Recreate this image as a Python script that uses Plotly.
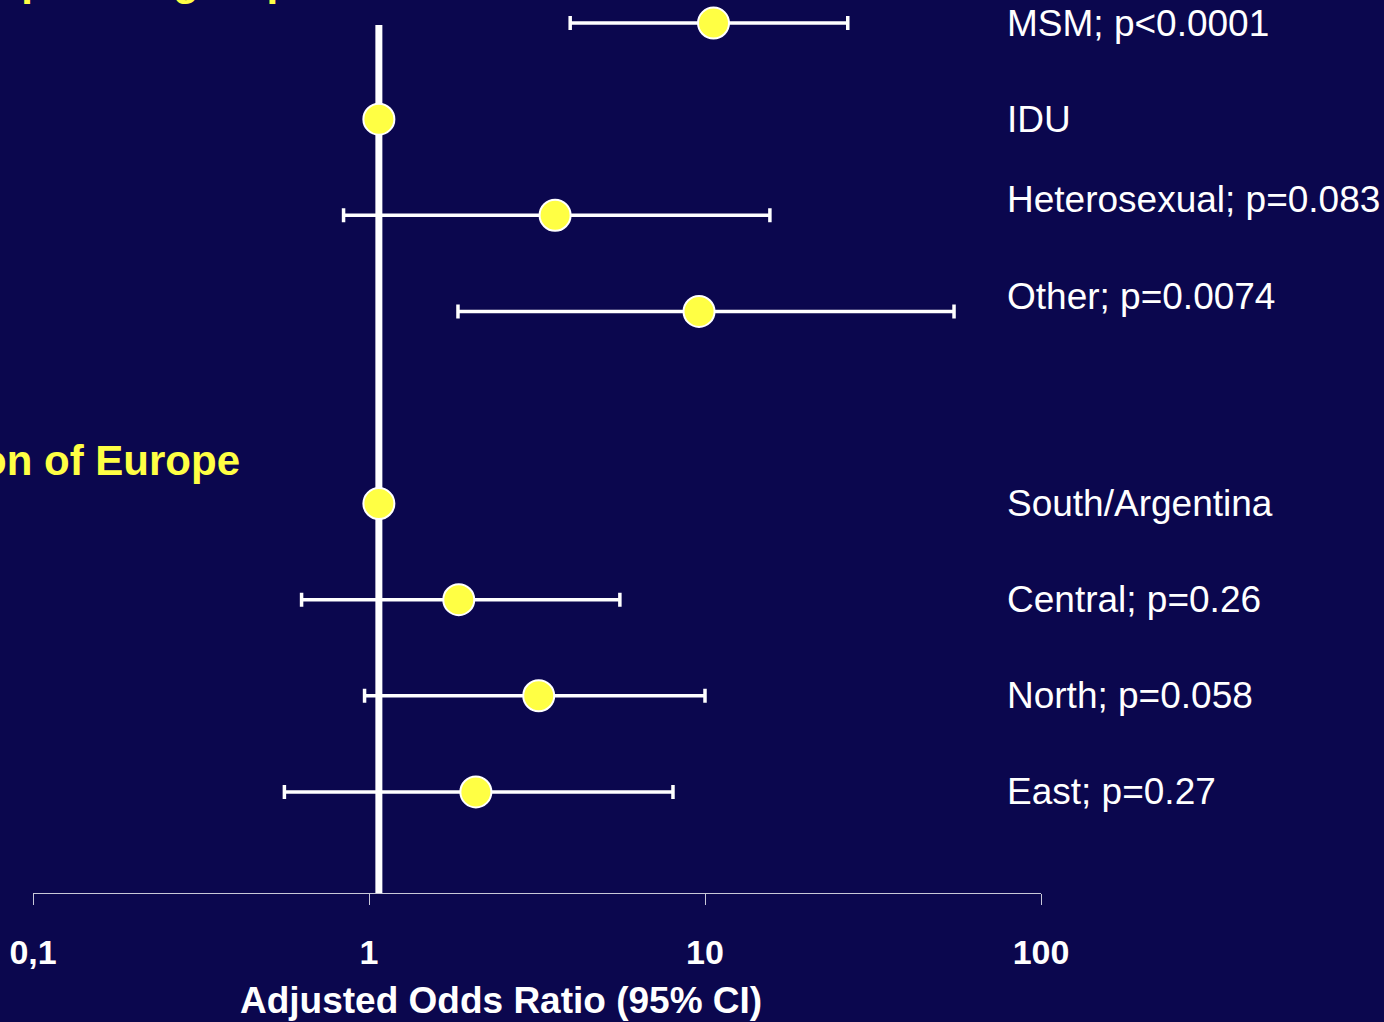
import plotly.graph_objects as go

# Adjusted odds ratios with 95% confidence intervals
labels = [
    "MSM; p<0.0001",
    "IDU",
    "Heterosexual; p=0.083",
    "Other; p=0.0074",
    "South/Argentina",
    "Central; p=0.26",
    "North; p=0.058",
    "East; p=0.27",
]
odds_ratio = [10.6, 1.07, 3.58, 9.6, 1.07, 1.85, 3.2, 2.08]
ci_low = [3.97, 1.07, 0.84, 1.84, 1.07, 0.63, 0.97, 0.56]
ci_high = [26.6, 1.07, 15.6, 55.1, 1.07, 5.58, 10.0, 8.03]
row_pos = [8, 7, 6, 5, 3, 2, 1, 0]
label_pos = [8, 7, 6.16, 5.16, 3, 2, 1, 0]

group_titles = ["Exposure group", "Region of Europe"]
group_pos = [8.175, 3.45]

tick_vals = [0.1, 1, 10, 100]
tick_text = ["0,1", "1", "10", "100"]
reference_or = 1.07

BG = "#0b074e"
YELLOW = "#ffff44"
WHITE = "#ffffff"
FONT = "Liberation Sans, Arial, sans-serif"

y_range = [-1.052, 8.24]

fig = go.Figure()

# vertical line of no effect
fig.add_trace(go.Scatter(
    x=[reference_or, reference_or], y=[y_range[0], 7.98],
    mode="lines", line=dict(color=WHITE, width=7),
    hoverinfo="skip", showlegend=False,
))

# point estimates with confidence intervals
fig.add_trace(go.Scatter(
    x=odds_ratio, y=row_pos, mode="markers",
    marker=dict(size=31, color=YELLOW, line=dict(color=WHITE, width=2)),
    error_x=dict(
        type="data", symmetric=False,
        array=[h - o for h, o in zip(ci_high, odds_ratio)],
        arrayminus=[o - l for o, l in zip(odds_ratio, ci_low)],
        color=WHITE, thickness=3.5, width=7,
    ),
    showlegend=False,
))

annotations = []
for lab, y in zip(labels, label_pos):
    annotations.append(dict(
        text=lab, xref="paper", yref="y", x=(1005 - 33) / 1008, y=y,
        xanchor="left", yanchor="middle", showarrow=False,
        font=dict(family=FONT, size=37, color=WHITE),
    ))

# group headings
annotations.append(dict(
    text="<b>" + group_titles[0] + "</b>", xref="paper", yref="y",
    x=(-32 - 33) / 1008, y=group_pos[0],
    xanchor="left", yanchor="bottom", showarrow=False,
    font=dict(family=FONT, size=42, color=YELLOW),
))
annotations.append(dict(
    text="<b>" + group_titles[1] + "</b>", xref="paper", yref="y",
    x=(242 - 33) / 1008, y=group_pos[1],
    xanchor="right", yanchor="middle", showarrow=False,
    font=dict(family=FONT, size=42, color=YELLOW),
))
# axis title
annotations.append(dict(
    text="<b>Adjusted Odds Ratio (95% CI)</b>", xref="paper", yref="paper",
    x=(501 - 33) / 1008, y=(893 - 1000) / 893,
    xanchor="center", yanchor="middle", showarrow=False,
    font=dict(family=FONT, size=37, color=WHITE),
))

fig.update_layout(
    width=1384, height=1022,
    margin=dict(l=33, r=343, t=0, b=129),
    paper_bgcolor=BG, plot_bgcolor=BG,
    annotations=annotations,
    xaxis=dict(
        type="log", range=[-1, 2],
        tickvals=tick_vals, ticktext=tick_text,
        ticks="outside", ticklen=11, tickwidth=1, tickcolor="#c8c8d8",
        showline=True, linecolor="#c8c8d8", linewidth=1,
        showgrid=False, zeroline=False,
        tickfont=dict(family=FONT, size=34, color=WHITE, weight="bold"),
        ticklabelstandoff=18,
        fixedrange=True,
    ),
    yaxis=dict(range=y_range, visible=False, showgrid=False, zeroline=False, fixedrange=True),
)

fig.write_html("out.html")
